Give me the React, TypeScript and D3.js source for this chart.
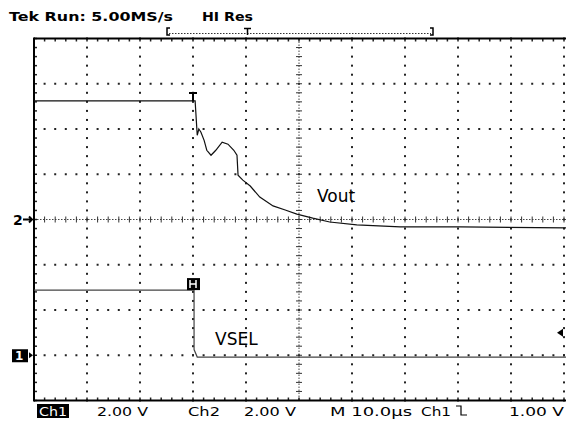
import React from 'react';
import * as d3 from 'd3';

// time in µs (10 µs/div), volts
const voutTime = [0, 30, 30.4, 30.8, 31.1, 31.5, 32.1, 32.6, 33.4, 34.3, 35.5, 36.6, 37.7, 38.3, 38.5, 39.4, 40.8, 42.6, 45.1, 47.4, 49.6, 52.6, 55.8, 60.9, 69.1, 80.4, 100.5];
const voutVolts = [5.24, 5.24, 5.24, 3.72, 4.0, 3.86, 3.5, 3.06, 2.84, 3.06, 3.42, 3.33, 3.06, 2.84, 1.96, 1.74, 1.48, 0.99, 0.6, 0.42, 0.24, 0.06, -0.11, -0.24, -0.33, -0.33, -0.37];
const vselTime = [0, 30.2, 30.2, 30.8, 100.5];
const vselVolts = [2.88, 2.88, 0.25, -0.08, -0.08];

const voltsPerDiv = 2;
const ch2Offset = 0; // divisions
const ch1Offset = -3;
const triggerLevel = 1.0; // V on ch1

const bottomLabels = [
  { text: '2.00 V', x: 97, len: 51 },
  { text: 'Ch2', x: 188, len: 32 },
  { text: '2.00 V', x: 244, len: 52 },
  { text: 'M 10.0µs', x: 330, len: 82 },
  { text: 'Ch1', x: 421, len: 30 },
  { text: '1.00 V', x: 509, len: 55 },
];

const App: React.FC = () => {
  const width = 566;
  const height = 422;
  const left = 34;
  const right = 564;
  const top = 38.5;
  const bottom = 400.5;

  const x = d3.scaleLinear().domain([0, 100]).range([left, right]);
  const yDiv = d3.scaleLinear().domain([-4, 4]).range([bottom, top]);
  const y2 = (v: number) => yDiv(v / voltsPerDiv + ch2Offset);
  const y1 = (v: number) => yDiv(v / voltsPerDiv + ch1Offset);

  const majorX = d3.range(1, 11).map((i) => i * 10); // 10..100
  const majorY = d3.range(-3, 4); // -3..3
  const minorX = d3.range(0, 101, 2);
  const minorY = d3.range(-4, 4.01, 0.2);

  const dots: JSX.Element[] = [];
  // vertical grid lines (dots at minor y)
  majorX.forEach((t) => {
    if (t === 50) return;
    minorY.forEach((d, k) => {
      dots.push(<rect key={`v${t}-${k}`} x={x(t) - 1} y={yDiv(d) - 1} width={2} height={2} fill="#222" />);
    });
  });
  // horizontal grid lines (dots at minor x)
  majorY.forEach((d) => {
    if (d === 0) return;
    minorX.forEach((t, k) => {
      dots.push(<rect key={`h${d}-${k}`} x={x(t) - 1} y={yDiv(d) - 1} width={2} height={2} fill="#222" />);
    });
  });

  const ticks: JSX.Element[] = [];
  // center cross ticks and border ticks
  minorX.forEach((t, k) => {
    ticks.push(<line key={`cx${k}`} x1={x(t)} x2={x(t)} y1={yDiv(0) - 3} y2={yDiv(0) + 3} stroke="#333" strokeWidth={1} />);
    ticks.push(<line key={`tx${k}`} x1={x(t)} x2={x(t)} y1={top} y2={top + 3} stroke="#222" strokeWidth={1.5} />);
    ticks.push(<line key={`bx${k}`} x1={x(t)} x2={x(t)} y1={bottom - 3} y2={bottom} stroke="#222" strokeWidth={1.5} />);
  });
  minorY.forEach((d, k) => {
    ticks.push(<line key={`cy${k}`} x1={x(50) - 3} x2={x(50) + 3} y1={yDiv(d)} y2={yDiv(d)} stroke="#333" strokeWidth={1} />);
    ticks.push(<line key={`ly${k}`} x1={left} x2={left + 3} y1={yDiv(d)} y2={yDiv(d)} stroke="#222" strokeWidth={1.5} />);
  });

  const voutLine = d3
    .line<number>()
    .x((_, i) => x(voutTime[i]))
    .y((v) => y2(v));
  const vselLine = d3
    .line<number>()
    .x((_, i) => x(vselTime[i]))
    .y((v) => y1(v));

  const trigX = x(30);
  const trigY = y1(triggerLevel);
  const font = "'DejaVu Sans', sans-serif";

  return (
    <svg width={width} height={height} style={{ position: 'absolute', left: 0, top: 0, background: '#fff' }}>
      {/* header */}
      <text x={9} y={21} fontFamily={font} fontWeight="bold" fontSize={13} textLength={164} lengthAdjust="spacingAndGlyphs">Tek Run: 5.00MS/s</text>
      <text x={202} y={21} fontFamily={font} fontWeight="bold" fontSize={13} textLength={51} lengthAdjust="spacingAndGlyphs">HI Res</text>

      {/* record bracket */}
      <path d="M170,28 L167,28 L167,35 L170,35" fill="none" stroke="#000" strokeWidth={1.5} />
      <path d="M430,28 L433,28 L433,35 L430,35" fill="none" stroke="#000" strokeWidth={1.5} />
      <line x1={169} x2={431} y1={33.5} y2={33.5} stroke="#333" strokeWidth={1} strokeDasharray="1.5 1.5" />
      <path d="M244,28.5 L251,28.5 M247.5,28.5 L247.5,35" fill="none" stroke="#000" strokeWidth={1.5} />

      {/* graticule */}
      {dots}
      <line x1={left} x2={width} y1={yDiv(0)} y2={yDiv(0)} stroke="#444" strokeWidth={1} strokeDasharray="1.5 1.5" />
      <line x1={x(50)} x2={x(50)} y1={top} y2={bottom} stroke="#444" strokeWidth={1} strokeDasharray="1.5 1.5" />
      {ticks}
      <line x1={left} x2={width} y1={top} y2={top} stroke="#000" strokeWidth={2} />
      <line x1={left} x2={width} y1={bottom} y2={bottom} stroke="#000" strokeWidth={2} />
      <line x1={left} x2={left} y1={top - 1} y2={bottom + 1} stroke="#000" strokeWidth={2} />

      {/* traces */}
      <path d={vselLine(vselVolts) ?? ''} fill="none" stroke="#444" strokeWidth={1.2} />
      <path d={voutLine(voutVolts) ?? ''} fill="none" stroke="#111" strokeWidth={1.2} />

      {/* trigger markers */}
      <path d={`M${trigX - 4},${y2(voutVolts[0]) - 8} L${trigX + 4},${y2(voutVolts[0]) - 8} M${trigX},${y2(voutVolts[0]) - 8} L${trigX},${y2(voutVolts[0])}`} stroke="#000" strokeWidth={2} fill="none" />
      <rect x={trigX - 6} y={y1(vselVolts[0]) - 12} width={13} height={12} fill="#000" />
      <path d={`M${trigX - 3},${y1(vselVolts[0]) - 10} L${trigX - 3},${y1(vselVolts[0]) - 2} M${trigX + 3},${y1(vselVolts[0]) - 10} L${trigX + 3},${y1(vselVolts[0]) - 2} M${trigX - 3},${y1(vselVolts[0]) - 6} L${trigX + 3},${y1(vselVolts[0]) - 6}`} stroke="#fff" strokeWidth={1.5} fill="none" />
      <path d={`M557,${trigY} L563,${trigY - 4} L563,${trigY + 4} Z`} fill="#000" />

      {/* labels */}
      <text x={317} y={202} fontFamily={font} fontSize={17}>Vout</text>
      <text x={215} y={345} fontFamily={font} fontSize={17}>VSEL</text>

      {/* channel ground markers */}
      <text x={13} y={yDiv(ch2Offset) + 5} fontFamily={font} fontWeight="bold" fontSize={14}>2</text>
      <path d={`M23,${yDiv(ch2Offset)} L32,${yDiv(ch2Offset)} M29,${yDiv(ch2Offset) - 3} L32,${yDiv(ch2Offset)} L29,${yDiv(ch2Offset) + 3}`} stroke="#000" strokeWidth={2} fill="none" />
      <rect x={12} y={yDiv(ch1Offset) - 6} width={16} height={13} fill="#000" />
      <text x={15} y={yDiv(ch1Offset) + 5} fontFamily={font} fontWeight="bold" fontSize={12} fill="#fff">1</text>
      <path d={`M29,${yDiv(ch1Offset) - 3} L33,${yDiv(ch1Offset)} L29,${yDiv(ch1Offset) + 3} Z`} fill="#000" />

      {/* status line */}
      <rect x={37} y={404} width={32} height={14} fill="#000" />
      <text x={39} y={416} fontFamily={font} fontSize={13} fill="#fff" textLength={28} lengthAdjust="spacingAndGlyphs">Ch1</text>
      {bottomLabels.map((l, i) => (
        <text key={i} x={l.x} y={416} fontFamily={font} fontSize={13} textLength={l.len} lengthAdjust="spacingAndGlyphs">{l.text}</text>
      ))}
      <path d="M456,406 L461,406 L461,415 L467,415" fill="none" stroke="#000" strokeWidth={1.2} />
    </svg>
  );
};

export default App;
